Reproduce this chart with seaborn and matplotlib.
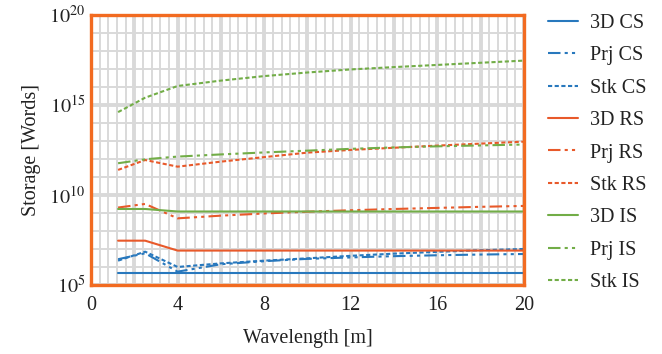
import numpy as np
import pandas as pd
import seaborn as sns
import matplotlib
matplotlib.use("Agg")
import matplotlib.pyplot as plt
from matplotlib.ticker import MultipleLocator, LogLocator, FuncFormatter

# wavelength samples [m]
wavelength = [1.25, 2.5, 4, 6, 8, 10, 12, 14, 16, 18, 20]

# log10 of storage in words
cs_3d = [5.65, 5.65, 5.65, 5.65, 5.65, 5.65, 5.65, 5.65, 5.65, 5.65, 5.65]
cs_prj = [6.43, 6.76, 5.74, 6.15, 6.32, 6.45, 6.53, 6.6, 6.65, 6.69, 6.72]
cs_stk = [6.35, 6.85, 6.0, 6.2, 6.35, 6.48, 6.62, 6.74, 6.84, 6.93, 7.0]
rs_3d = [7.46, 7.46, 6.91, 6.91, 6.91, 6.91, 6.91, 6.91, 6.91, 6.91, 6.91]
rs_prj = [9.3, 9.5, 8.7, 8.85, 8.97, 9.07, 9.15, 9.22, 9.28, 9.34, 9.39]
rs_stk = [11.39, 11.94, 11.57, 11.85, 12.1, 12.35, 12.5, 12.62, 12.74, 12.85, 12.96]
is_3d = [9.22, 9.22, 9.08, 9.08, 9.08, 9.08, 9.08, 9.08, 9.08, 9.08, 9.08]
is_prj = [11.76, 11.98, 12.13, 12.25, 12.36, 12.46, 12.56, 12.64, 12.7, 12.75, 12.8]
is_stk = [14.6, 15.4, 16.05, 16.35, 16.6, 16.8, 16.97, 17.1, 17.22, 17.34, 17.46]

labels = ["3D CS", "Prj CS", "Stk CS", "3D RS", "Prj RS", "Stk RS", "3D IS", "Prj IS", "Stk IS"]
series = [cs_3d, cs_prj, cs_stk, rs_3d, rs_prj, rs_stk, is_3d, is_prj, is_stk]

blue = "#2878BD"
orange = "#E8592A"
green = "#72AD47"
colors = [blue] * 3 + [orange] * 3 + [green] * 3
styles = ["solid", (0, (6, 2, 1.5, 2, 1.5, 2)), (0, (2, 1.2))] * 3

sns.set_theme(style="white")
plt.rcParams["font.family"] = ["Liberation Serif", "DejaVu Serif"]
plt.rcParams["mathtext.fontset"] = "stix"

fig = plt.figure(figsize=(6.62, 3.54), dpi=100)
ax = fig.add_axes([0.1375, 0.195, 0.654, 0.763])

for lab, vals, col, ls in zip(labels, series, colors, styles):
    df = pd.DataFrame({"x": wavelength, "y": np.power(10.0, vals)})
    sns.lineplot(data=df, x="x", y="y", ax=ax, color=col, linewidth=1.5,
                 label=lab, linestyle=ls)

ax.set_yscale("log")
ax.set_xlim(0, 20)
ax.set_ylim(1e5, 1e20)

ax.xaxis.set_major_locator(MultipleLocator(2))
ax.xaxis.set_minor_locator(MultipleLocator(0.4))
ax.xaxis.set_major_formatter(FuncFormatter(lambda v, p: f"{v:.0f}" if round(v) % 4 == 0 else ""))
ax.yaxis.set_major_locator(LogLocator(base=1e5))
ax.yaxis.set_minor_locator(LogLocator(base=10, subs=(1.0,), numticks=40))
ax.yaxis.set_major_formatter(FuncFormatter(lambda v, p: f"$10^{{{int(round(np.log10(v)))}}}$"))
ax.yaxis.set_minor_formatter(FuncFormatter(lambda v, p: ""))

ax.grid(which="major", color="#D9D9D9", linewidth=2.8)
ax.grid(which="minor", color="#D9D9D9", linewidth=1.4)
ax.set_axisbelow(True)
ax.tick_params(which="both", length=0, labelsize=14.5, colors="#222222")
ax.tick_params(axis="x", pad=8)
ax.tick_params(axis="y", pad=4)

for sp in ax.spines.values():
    sp.set_color("#F26B21")
    sp.set_linewidth(2.4)

ax.set_xlabel("Wavelength [m]", fontsize=14.5, color="#222222", labelpad=10)
ax.set_ylabel("Storage [Words]", fontsize=14.5, color="#222222", labelpad=6)

ax.get_legend().remove()
handles, labs = ax.get_legend_handles_labels()
fig.legend(handles, labs, loc="upper left", bbox_to_anchor=(0.8, 1.012),
           frameon=False, fontsize=14.5, handlelength=1.5, handletextpad=0.6,
           labelspacing=0.66, labelcolor="#222222")

fig.savefig("out.png", dpi=100)
